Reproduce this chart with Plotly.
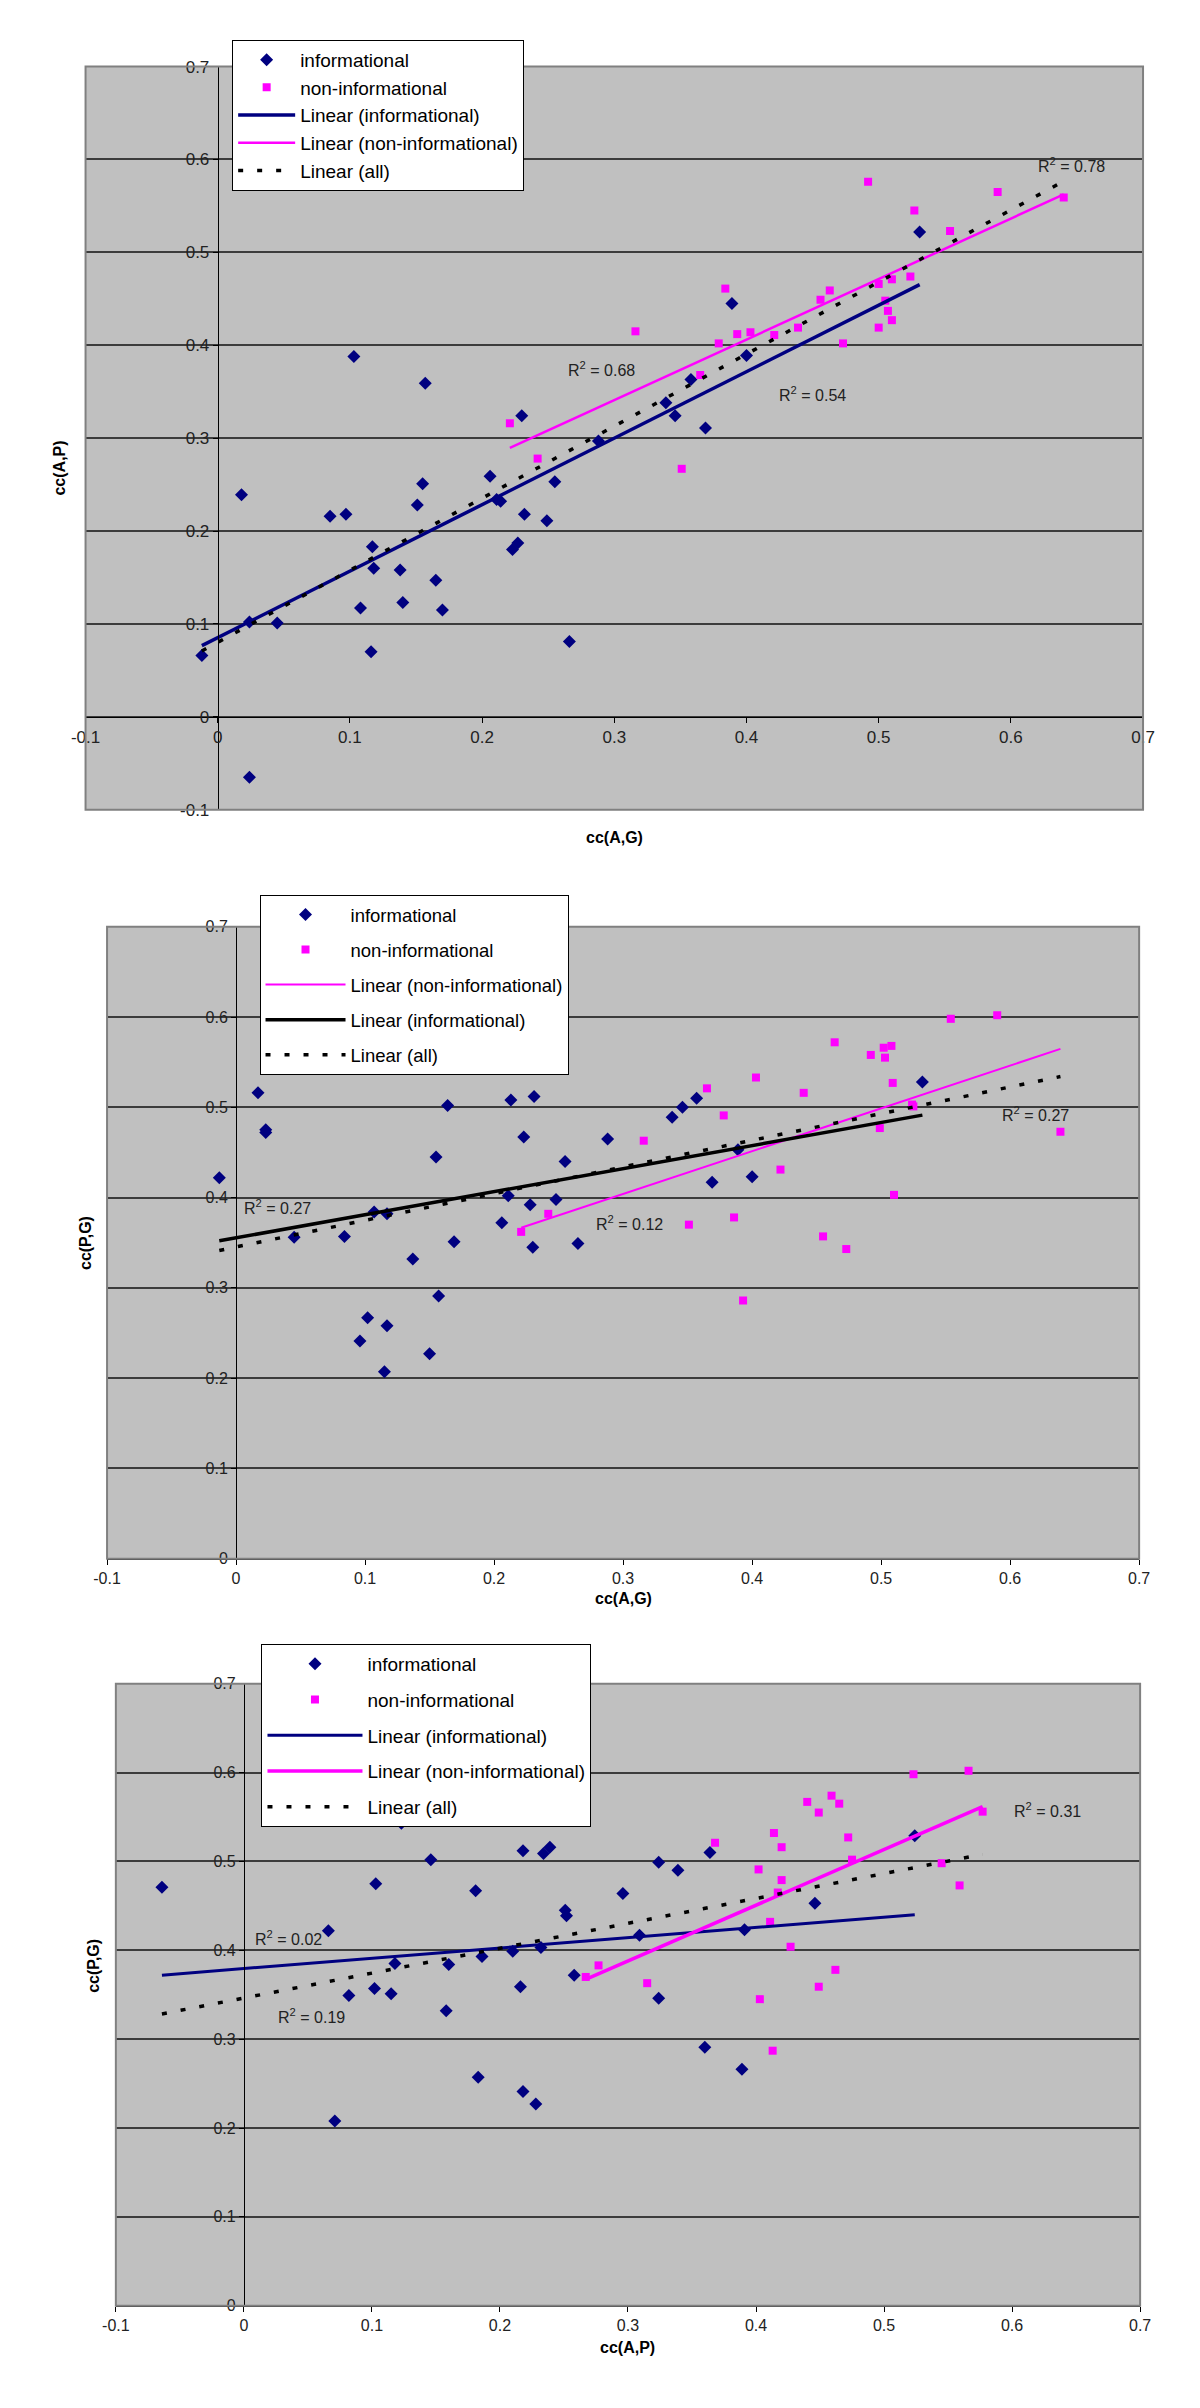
import numpy as np
import plotly.graph_objects as go

W, H = 1200, 2408
OFF = 8                      # default page margin around the plot div
FW, FH = W - OFF, H - OFF    # figure size so that it fills the window exactly
FONT = "Liberation Sans, Arial, sans-serif"
NAVY = "#000080"
MAGENTA = "#FF00FF"

# ---------------- data ----------------
# Panel 1: x = cc(A,G), y = cc(A,P)
p1_info_x = [0.103, 0.157, 0.230, 0.389, 0.531, 0.400, 0.358, 0.339, 0.346, 0.369, 0.288, 0.018,
             0.085, 0.097, 0.155, 0.151, 0.206, 0.211, 0.214, 0.255, 0.232, 0.249, 0.223, 0.227,
             0.117, 0.118, 0.138, 0.165, 0.108, 0.140, 0.170, 0.024, 0.045, -0.012, 0.116, 0.266, 0.024]
p1_info_y = [0.388, 0.359, 0.324, 0.445, 0.522, 0.389, 0.363, 0.338, 0.324, 0.311, 0.297, 0.239,
             0.216, 0.218, 0.251, 0.228, 0.259, 0.234, 0.232, 0.253, 0.218, 0.211, 0.180, 0.187,
             0.183, 0.160, 0.158, 0.147, 0.117, 0.123, 0.115, 0.102, 0.101, 0.066, 0.070, 0.081, -0.065]
p1_non_x = [0.492, 0.590, 0.640, 0.527, 0.554, 0.524, 0.510, 0.500, 0.463, 0.456, 0.505, 0.507, 0.510,
            0.500, 0.384, 0.316, 0.393, 0.403, 0.421, 0.439, 0.379, 0.473, 0.365, 0.221, 0.242, 0.351]
p1_non_y = [0.576, 0.565, 0.559, 0.545, 0.523, 0.474, 0.471, 0.466, 0.459, 0.449, 0.448, 0.437, 0.427,
            0.419, 0.461, 0.415, 0.412, 0.414, 0.411, 0.419, 0.402, 0.402, 0.368, 0.316, 0.278, 0.267]

# Panel 2: x = cc(A,G), y = cc(P,G)
p2_info_x = [-0.013, 0.017, 0.023, 0.023, 0.139, 0.164, 0.213, 0.231, 0.223, 0.155, 0.255, 0.288, 0.338,
             0.346, 0.357, 0.532, 0.389, 0.369, 0.400, 0.211, 0.107, 0.117, 0.228, 0.248, 0.206, 0.045,
             0.084, 0.169, 0.230, 0.265, 0.137, 0.157, 0.102, 0.117, 0.096, 0.150, 0.115]
p2_info_y = [0.422, 0.516, 0.475, 0.472, 0.544, 0.502, 0.508, 0.512, 0.467, 0.445, 0.440, 0.465, 0.489,
             0.500, 0.510, 0.528, 0.453, 0.417, 0.423, 0.402, 0.384, 0.382, 0.392, 0.398, 0.372, 0.356,
             0.357, 0.351, 0.345, 0.349, 0.332, 0.291, 0.267, 0.258, 0.241, 0.227, 0.207]
p2_non_x = [0.554, 0.590, 0.464, 0.492, 0.502, 0.508, 0.503, 0.509, 0.403, 0.365, 0.440, 0.525, 0.524,
            0.378, 0.499, 0.639, 0.316, 0.422, 0.510, 0.242, 0.221, 0.351, 0.386, 0.455, 0.473, 0.393]
p2_non_y = [0.598, 0.602, 0.572, 0.558, 0.566, 0.568, 0.555, 0.527, 0.533, 0.521, 0.516, 0.501, 0.503,
            0.491, 0.477, 0.473, 0.463, 0.431, 0.403, 0.382, 0.362, 0.370, 0.378, 0.357, 0.343, 0.286]

# Panel 3: x = cc(A,P), y = cc(P,G)
p3_info_x = [-0.064, 0.103, 0.123, 0.146, 0.181, 0.218, 0.234, 0.239, 0.251, 0.252, 0.296, 0.324, 0.339,
             0.364, 0.524, 0.446, 0.391, 0.309, 0.066, 0.210, 0.232, 0.186, 0.118, 0.160, 0.258, 0.102,
             0.115, 0.082, 0.216, 0.324, 0.158, 0.360, 0.389, 0.183, 0.218, 0.228, 0.071]
p3_info_y = [0.471, 0.475, 0.543, 0.502, 0.467, 0.512, 0.509, 0.516, 0.445, 0.439, 0.464, 0.499, 0.490,
             0.510, 0.529, 0.453, 0.423, 0.417, 0.422, 0.399, 0.403, 0.393, 0.385, 0.384, 0.372, 0.357,
             0.351, 0.349, 0.359, 0.346, 0.332, 0.291, 0.266, 0.257, 0.241, 0.227, 0.208]
p3_non_x = [0.523, 0.566, 0.440, 0.459, 0.465, 0.449, 0.577, 0.414, 0.420, 0.472, 0.368, 0.475, 0.545,
            0.402, 0.420, 0.559, 0.417, 0.411, 0.427, 0.277, 0.462, 0.267, 0.315, 0.449, 0.403, 0.413]
p3_non_y = [0.598, 0.602, 0.567, 0.574, 0.565, 0.555, 0.556, 0.532, 0.516, 0.527, 0.521, 0.502, 0.498,
            0.491, 0.479, 0.473, 0.465, 0.432, 0.404, 0.383, 0.378, 0.370, 0.363, 0.359, 0.345, 0.287]

# R^2 labels: text and anchor position (data coords)
p1_r2_text = ["R<sup>2</sup> = 0.78", "R<sup>2</sup> = 0.68", "R<sup>2</sup> = 0.54"]
p1_r2_x = [0.646, 0.290, 0.450]
p1_r2_y = [0.594, 0.374, 0.347]
p2_r2_text = ["R<sup>2</sup> = 0.27", "R<sup>2</sup> = 0.12", "R<sup>2</sup> = 0.27"]
p2_r2_x = [0.032, 0.305, 0.620]
p2_r2_y = [0.390, 0.372, 0.493]
p3_r2_text = ["R<sup>2</sup> = 0.02", "R<sup>2</sup> = 0.19", "R<sup>2</sup> = 0.31"]
p3_r2_x = [0.035, 0.053, 0.628]
p3_r2_y = [0.414, 0.326, 0.558]

x_ticks = [-0.1, 0, 0.1, 0.2, 0.3, 0.4, 0.5, 0.6, 0.7]
x_tick_labels = ["-0.1", "0", "0.1", "0.2", "0.3", "0.4", "0.5", "0.6", "0.7"]
y1_ticks = [-0.1, 0, 0.1, 0.2, 0.3, 0.4, 0.5, 0.6, 0.7]
y1_tick_labels = ["-0.1", "0", "0.1", "0.2", "0.3", "0.4", "0.5", "0.6", "0.7"]
y_ticks = [0, 0.1, 0.2, 0.3, 0.4, 0.5, 0.6, 0.7]
y_tick_labels = ["0", "0.1", "0.2", "0.3", "0.4", "0.5", "0.6", "0.7"]


def fx(px):
    """page pixel x -> paper fraction"""
    return (px - OFF) / FW


def fy(py):
    """page pixel y -> paper fraction"""
    return 1 - (py - OFF) / FH


def fit_line(x, y):
    x = np.asarray(x, float)
    y = np.asarray(y, float)
    k, b = np.polyfit(x, y, 1)
    xs = np.array([x.min(), x.max()])
    return xs, k * xs + b


fig = go.Figure()

# panel geometry in page pixels: left, right, top, bottom
panels = [
    dict(ax="", l=72, r=1154, t=58, b=807, yr=[-0.1, 0.7], yt=y1_ticks, ytl=y1_tick_labels,
         tick=17, xtitle="cc(A,G)", ytitle="cc(A,P)", xt_y=835, yt_x=35,
         leg=dict(x=222, y=31, size=19, gap=0, iw=57)),
    dict(ax="2", l=94, r=1150, t=925, b=1562, yr=[0, 0.7], yt=y_ticks, ytl=y_tick_labels,
         tick=16, xtitle="cc(A,G)", ytitle="cc(P,G)", xt_y=1613, yt_x=61,
         leg=dict(x=250, y=893, size=18.5, gap=8, iw=80)),
    dict(ax="3", l=103, r=1151, t=1688, b=2315, yr=[0, 0.7], yt=y_ticks, ytl=y_tick_labels,
         tick=16, xtitle="cc(A,P)", ytitle="cc(P,G)", xt_y=2368, yt_x=70,
         leg=dict(x=252, y=1648, size=19, gap=8, iw=95)),
]

series = [
    (p1_info_x, p1_info_y, p1_non_x, p1_non_y,
     [("Linear (informational)", "info", NAVY, 3.5, "solid"),
      ("Linear (non-informational)", "non", MAGENTA, 2.5, "solid"),
      ("Linear (all)", "all", "black", 3.5, "5px,14px")],
     (p1_r2_text, p1_r2_x, p1_r2_y)),
    (p2_info_x, p2_info_y, p2_non_x, p2_non_y,
     [("Linear (non-informational)", "non", MAGENTA, 2, "solid"),
      ("Linear (informational)", "info", "black", 3.5, "solid"),
      ("Linear (all)", "all", "black", 3.5, "5px,14px")],
     (p2_r2_text, p2_r2_x, p2_r2_y)),
    (p3_info_x, p3_info_y, p3_non_x, p3_non_y,
     [("Linear (informational)", "info", NAVY, 3, "solid"),
      ("Linear (non-informational)", "non", MAGENTA, 3.5, "solid"),
      ("Linear (all)", "all", "black", 3.5, "5px,14px")],
     (p3_r2_text, p3_r2_x, p3_r2_y)),
]

layout_upd = {}
annotations = []
shapes = []

for i, (pg, sr) in enumerate(zip(panels, series)):
    a = pg["ax"]
    xa, ya = "x" + a, "y" + a
    legname = "legend" + a
    ix, iy, nx, ny, lines, r2 = sr

    fig.add_trace(go.Scatter(x=ix, y=iy, mode="markers", name="informational",
                             marker=dict(symbol="diamond", size=10, color=NAVY),
                             xaxis=xa, yaxis=ya, legend=legname, legendgroup=f"g{i}a"))
    fig.add_trace(go.Scatter(x=nx, y=ny, mode="markers", name="non-informational",
                             marker=dict(symbol="square", size=8, color=MAGENTA),
                             xaxis=xa, yaxis=ya, legend=legname, legendgroup=f"g{i}b"))
    all_x = list(ix) + list(nx)
    all_y = list(iy) + list(ny)
    for j, (name, key, color, width, dash) in enumerate(lines):
        if key == "info":
            lx, ly = fit_line(ix, iy)
        elif key == "non":
            lx, ly = fit_line(nx, ny)
        else:
            lx, ly = fit_line(all_x, all_y)
        fig.add_trace(go.Scatter(x=lx, y=ly, mode="lines", name=name,
                                 line=dict(color=color, width=width, dash=dash),
                                 xaxis=xa, yaxis=ya, legend=legname, legendgroup=f"g{i}c{j}"))

    yr = pg["yr"]
    l, r, t, b = pg["l"], pg["r"], pg["t"], pg["b"]
    x0_px = l + (0 - (-0.1)) / 0.8 * (r - l)
    y0_px = b - (0 - yr[0]) / (yr[1] - yr[0]) * (b - t)

    layout_upd["xaxis" + a] = dict(
        domain=[fx(l), fx(r)], range=[-0.1, 0.7], anchor="free", position=fy(y0_px),
        tickvals=x_ticks, ticktext=x_tick_labels, showline=True, linecolor="#000000", linewidth=1,
        ticks="outside", ticklen=5, tickcolor="#000000", showgrid=False, zeroline=False,
        tickfont=dict(family=FONT, size=pg["tick"], color="#222222"), fixedrange=True)
    layout_upd["yaxis" + a] = dict(
        domain=[fy(b), fy(t)], range=yr, anchor="free", position=fx(x0_px),
        tickvals=pg["yt"], ticktext=pg["ytl"], showline=True, linecolor="#000000", linewidth=1,
        ticks="outside", ticklen=5, tickcolor="#000000", showgrid=True, gridcolor="#3c3c3c",
        gridwidth=2, zeroline=False,
        tickfont=dict(family=FONT, size=pg["tick"], color="#222222"), fixedrange=True)

    lgd = pg["leg"]
    layout_upd["legend" + a] = dict(
        x=fx(lgd["x"]), y=fy(lgd["y"]), xanchor="left", yanchor="top",
        bgcolor="white", bordercolor="black", borderwidth=1,
        font=dict(family=FONT, size=lgd["size"], color="black"),
        tracegroupgap=lgd["gap"], itemwidth=lgd["iw"], traceorder="grouped")

    shapes.append(dict(type="rect", xref=xa + " domain", yref=ya + " domain",
                       x0=0, x1=1, y0=0, y1=1, line=dict(color="#808080", width=2),
                       layer="above"))

    annotations.append(dict(text=f"<b>{pg['xtitle']}</b>", xref="paper", yref="paper",
                            x=fx((l + r) / 2), y=fy(pg["xt_y"]), showarrow=False,
                            font=dict(family=FONT, size=16, color="black")))
    annotations.append(dict(text=f"<b>{pg['ytitle']}</b>", xref="paper", yref="paper",
                            x=fx(pg["yt_x"]), y=fy((t + b) / 2), showarrow=False,
                            textangle=-90, font=dict(family=FONT, size=16, color="black")))
    for txt, rx, ry in zip(*r2):
        annotations.append(dict(text=txt, xref=xa, yref=ya, x=rx, y=ry, showarrow=False,
                                font=dict(family=FONT, size=16, color="#222222")))

fig.update_layout(
    width=FW, height=FH, margin=dict(l=0, r=0, t=0, b=0),
    paper_bgcolor="white", plot_bgcolor="#C0C0C0",
    showlegend=True, annotations=annotations, shapes=shapes,
    font=dict(family=FONT), **layout_upd)

fig.write_html("out.html")
